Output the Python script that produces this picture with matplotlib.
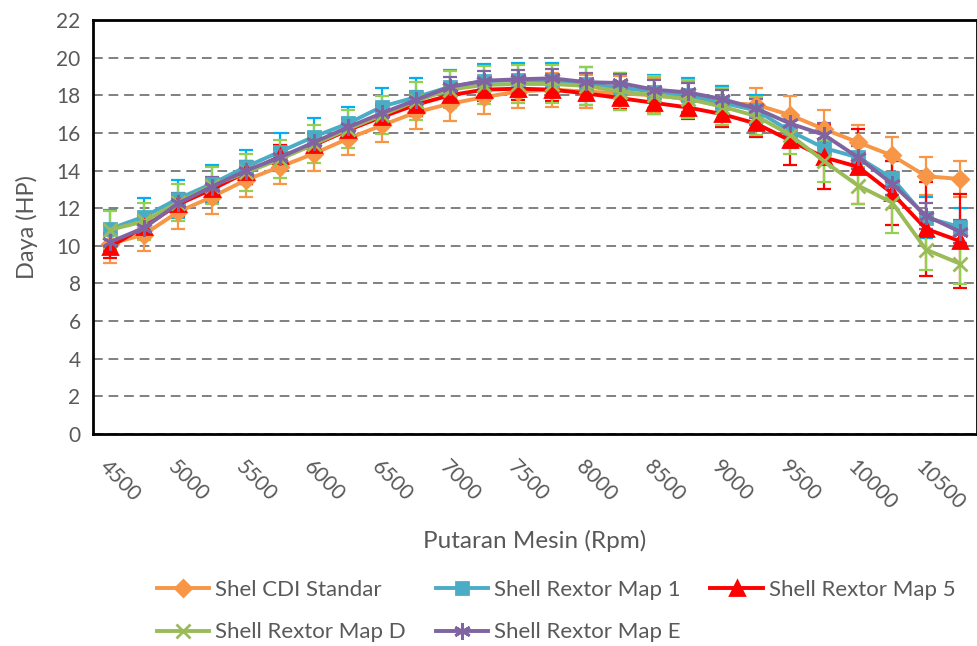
import matplotlib
matplotlib.use('Agg')
import matplotlib.pyplot as plt

# -------------------- DATA --------------------
rpm = list(range(4500, 11000, 250))

standar = [10.1, 10.6, 11.8, 12.6, 13.5, 14.2, 14.9, 15.7, 16.4, 17.1, 17.55, 17.9, 18.2,
           18.3, 18.2, 18.1, 18.0, 17.8, 17.6, 17.5, 16.95, 16.2, 15.5, 14.8, 13.7, 13.55]
map1 = [10.9, 11.55, 12.5, 13.3, 14.2, 15.0, 15.8, 16.5, 17.4, 17.9, 18.45, 18.75, 18.8,
        18.8, 18.6, 18.4, 18.2, 18.0, 17.6, 17.2, 16.1, 15.2, 14.7, 13.6, 11.5, 11.0]
map5 = [9.95, 11.0, 12.2, 13.0, 13.9, 14.75, 15.35, 16.15, 16.85, 17.5, 18.0, 18.3, 18.35,
        18.3, 18.1, 17.85, 17.6, 17.35, 17.0, 16.5, 15.6, 14.7, 14.2, 12.8, 10.9, 10.25]
mapD = [10.85, 11.3, 12.3, 13.2, 13.9, 14.6, 15.4, 16.2, 16.95, 17.7, 18.3, 18.55, 18.6,
        18.6, 18.5, 18.2, 18.0, 17.8, 17.4, 16.9, 15.9, 14.5, 13.2, 12.3, 9.8, 9.05]
mapE = [10.2, 10.95, 12.25, 13.15, 14.0, 14.7, 15.5, 16.3, 17.05, 17.75, 18.45, 18.77, 18.85,
        18.9, 18.7, 18.65, 18.3, 18.15, 17.8, 17.3, 16.5, 15.9, 14.7, 13.3, 11.6, 10.75]

err_standar = [1.0, 0.9, 0.9, 0.9, 0.9, 0.9, 0.9, 0.9, 0.9, 0.9, 0.9, 0.9, 0.9,
               0.9, 0.9, 0.9, 0.9, 0.9, 0.9, 0.9, 1.0, 1.0, 0.9, 1.0, 1.0, 0.95]
err_map1 = [1.0, 1.0, 1.0, 1.0, 0.9, 1.0, 1.0, 0.9, 1.0, 1.0, 0.9, 0.9, 0.9,
            0.9, 0.9, 0.8, 0.9, 0.9, 0.9, 0.8, 0.9, 0.9, 0.9, 0.9, 1.1, 1.0]
err_map5 = [0.6, 0.6, 0.6, 0.6, 0.6, 0.6, 0.6, 0.6, 0.6, 0.6, 0.6, 0.6, 0.6,
            0.6, 0.6, 0.6, 0.6, 0.6, 0.7, 0.7, 1.3, 1.7, 2.0, 1.7, 2.5, 2.5]
err_mapD = [1.0, 1.0, 1.0, 1.0, 1.0, 1.0, 1.0, 1.0, 1.0, 1.0, 1.0, 1.0, 1.0,
            1.0, 1.0, 1.0, 1.0, 1.0, 1.0, 1.0, 1.0, 1.1, 1.0, 1.6, 1.1, 1.1]
err_mapE = [0.5, 0.5, 0.5, 0.5, 0.5, 0.5, 0.5, 0.5, 0.5, 0.5, 0.5, 0.5, 0.5,
            0.5, 0.5, 0.5, 0.5, 0.5, 0.5, 0.5, 0.5, 0.6, 0.6, 0.6, 0.7, 0.6]

labels = ['Shel CDI Standar', 'Shell Rextor Map 1', 'Shell Rextor Map 5',
          'Shell Rextor Map D', 'Shell Rextor Map E']

# -------------------- STYLE --------------------
plt.rcParams['font.family'] = ['Lato', 'DejaVu Sans']
TXT = '#595959'

series = [
    (standar, err_standar, '#F79646', '#F79646', 'D', 8),
    (map1, err_map1, '#4BACC6', '#00B0F0', 's', 9),
    (map5, err_map5, '#FF0000', '#FF0000', '^', 10.5),
    (mapD, err_mapD, '#9BBB59', '#92D050', 'x', 10),
    (mapE, err_mapE, '#8064A2', '#8064A2', (6, 2, 0), 12),
]

fig = plt.figure(figsize=(9.78, 6.46), dpi=100)
ax = fig.add_axes([93 / 978, 1 - 434 / 646, 1 - 93 / 978 - 0.001, (434 - 20) / 646])

x = list(range(len(rpm)))
handles = []
for i, (vals, err, col, ecol, mk, ms) in enumerate(series):
    ax.errorbar(x, vals, yerr=err, fmt='none', ecolor=ecol, elinewidth=1.6,
                capsize=5, capthick=1.6, zorder=2 + i * 0.1)
    h, = ax.plot(x, vals, color=col, lw=2.8, marker=mk, ms=ms, mec=col, mfc=col,
                 mew=2, zorder=3 + i * 0.1, label=labels[i])
    handles.append(h)

ax.set_xlim(-0.5, len(rpm) - 0.5)
ax.set_ylim(0, 22)
ax.set_yticks(range(0, 23, 2))
ax.yaxis.grid(True, color='#808080', ls=(0, (5, 3)), lw=1.4)
ax.set_axisbelow(True)

tick_pos = [i for i, r in enumerate(rpm) if r % 500 == 0]
ax.set_xticks(tick_pos)
ax.set_xticklabels([str(rpm[i]) for i in tick_pos], rotation=-45, ha='left',
                   rotation_mode='anchor')
ax.tick_params(axis='x', length=0, pad=16, labelsize=15, labelcolor=TXT)
ax.tick_params(axis='y', length=0, pad=9, labelsize=15, labelcolor=TXT)

for s in ax.spines.values():
    s.set_color('black')
    s.set_linewidth(2)

ax.set_ylabel('Daya (HP)', fontsize=17, color=TXT, labelpad=13)
ax.set_xlabel('Putaran Mesin (Rpm)', fontsize=17.5, color=TXT, labelpad=12)

# legend fills column-wise, so reorder to get rows like the original
order = [0, 3, 1, 4, 2]
fig.legend(handles=[handles[k] for k in order], loc='center',
           bbox_to_anchor=(556 / 978, 1 - 611 / 646),
           ncol=3, frameon=False, fontsize=16, labelcolor=TXT, handlelength=2.35,
           handletextpad=0.27, columnspacing=1.35, labelspacing=1.02)

plt.savefig('out.png', dpi=100)
